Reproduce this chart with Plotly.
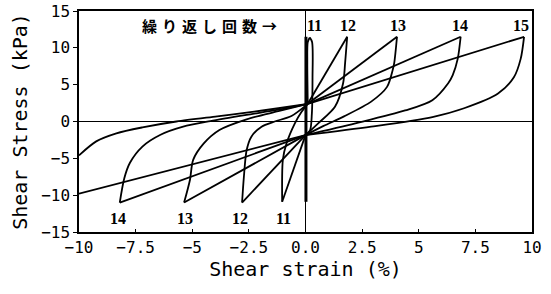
import plotly.graph_objects as go

# ---- data (strain %, stress kPa) ----
U_X, U_Y = 0.1, 2.4      # upper convergence point
L_X, L_Y = 0.0, -1.85    # lower convergence point

peak_labels = ["11", "12", "13", "14", "15"]
peak_strain = [0.19, 1.84, 4.04, 6.85, 9.65]
peak_stress = [11.4, 11.5, 11.5, 11.5, 11.5]
peak_label_x = [0.4, 1.86, 4.07, 6.8, 9.5]

trough_labels = ["11", "12", "13", "14"]
trough_strain = [-1.03, -2.8, -5.36, -8.2]
trough_stress = [-10.9, -11.0, -11.0, -11.0]
trough_label_x = [-0.99, -2.87, -5.33, -8.3]

# cycles 1-10 (almost no strain)
early_x = [0.02, 0.02]
early_y = [-10.9, 11.5]

# loading branches (trough -> upper convergence)
load11_x = [-1.03, -1.0, -0.84, -0.47, -0.18, 0.1]
load11_y = [-10.9, -5.2, -3.0, -0.25, 1.3, 2.4]
load12_x = [-2.8, -2.72, -2.6, -2.39, -1.94, -1.36, -0.62, 0.1]
load12_y = [-11.0, -7.5, -3.9, -2.06, -0.7, 0.0, 0.75, 2.4]
load13_x = [-5.36, -5.1, -4.96, -4.5, -3.8, -2.6, -1.2, 0.1]
load13_y = [-11.0, -7.9, -5.2, -3.0, -1.15, 0.3, 1.4, 2.4]
load14_x = [-8.2, -8.0, -7.75, -7.2, -6.4, -5.4, -4.2, -2.6, -1.2, 0.1]
load14_y = [-11.0, -7.7, -5.6, -3.4, -1.8, -0.7, 0.05, 0.9, 1.6, 2.4]
load15_x = [-10.0, -9.24, -8.35, -7.2, -5.7, -3.9, -2.6, -1.2, 0.1]
load15_y = [-4.6, -2.7, -1.6, -0.8, 0.0, 0.7, 1.2, 1.8, 2.4]

# cycle 11 rise to its peak
rise11_x = [0.1, 0.08, 0.1, 0.19]
rise11_y = [2.4, 8.0, 10.8, 11.4]

# unloading branches (peak -> lower convergence)
unload11_x = [0.19, 0.29, 0.31, 0.28, 0.2, 0.0]
unload11_y = [11.4, 10.8, 6.0, 1.0, -1.2, -1.85]
unload12_x = [1.84, 1.75, 1.66, 1.3, 0.56, 0.0]
unload12_y = [11.5, 8.0, 5.2, 2.0, -0.25, -1.85]
unload13_x = [4.04, 3.92, 3.85, 3.6, 2.9, 1.7, 0.8, 0.0]
unload13_y = [11.5, 8.0, 7.0, 4.7, 2.7, 0.7, -0.6, -1.85]
unload14_x = [6.85, 6.72, 6.5, 6.3, 5.6, 4.4, 2.2, 0.0]
unload14_y = [11.5, 8.5, 6.3, 5.2, 2.9, 1.5, -0.25, -1.85]
unload15_x = [9.65, 9.5, 9.2, 8.5, 7.0, 5.6, 2.9, 0.0]
unload15_y = [11.5, 8.5, 6.0, 3.8, 1.8, 0.6, -0.7, -1.85]

# cycle 15 trough lies beyond the plot: line leaves at left edge
edge15_x = -10.0
edge15_y = -9.8

LW = 1.8
fig = go.Figure()

def seg(x, y, smooth):
    fig.add_trace(go.Scatter(
        x=x, y=y, mode="lines",
        line=dict(color="black", width=LW,
                  shape="spline" if smooth else "linear",
                  smoothing=0.8 if smooth else None),
        showlegend=False, hoverinfo="skip"))

loads = [(load11_x, load11_y), (load12_x, load12_y), (load13_x, load13_y),
         (load14_x, load14_y), (load15_x, load15_y)]
unloads = [(unload11_x, unload11_y), (unload12_x, unload12_y), (unload13_x, unload13_y),
           (unload14_x, unload14_y), (unload15_x, unload15_y)]

for lx, ly in loads:
    seg(lx, ly, True)
for ux, uy in unloads:
    seg(ux, uy, True)

# straight reloading lines upper convergence -> peaks
seg(rise11_x, rise11_y, True)
for px, py in zip(peak_strain[1:], peak_stress[1:]):
    seg([U_X, px], [U_Y, py], False)

# straight lines lower convergence -> troughs
for tx, ty in zip(trough_strain, trough_stress):
    seg([L_X, tx], [L_Y, ty], False)
seg([L_X, edge15_x], [L_Y, edge15_y], False)

# early cycles
fig.add_trace(go.Scatter(x=early_x, y=early_y, mode="lines",
                         line=dict(color="black", width=3),
                         showlegend=False, hoverinfo="skip"))

label_font = dict(family="Liberation Serif", size=16, color="black", weight="bold")
for lab, lx in zip(peak_labels, peak_label_x):
    fig.add_annotation(x=lx, y=13.1, text=lab, showarrow=False, font=label_font)
for lab, lx in zip(trough_labels, trough_label_x):
    fig.add_annotation(x=lx, y=-13.1, text=lab, showarrow=False, font=label_font)

fig.add_annotation(x=-1.15, y=13.1, xanchor="right",
                   text="繰\u2004り\u2004返\u2004し\u2004回\u2004数\u2004→",
                   showarrow=False,
                   font=dict(family="Noto Sans CJK JP", size=15, color="black", weight="bold"))

x_tickvals = [-10, -7.5, -5, -2.5, 0, 2.5, 5, 7.5, 10]
x_ticktext = ["−10", "−7.5", "−5", "−2.5", "0.0", "2.5", "5", "7.5", "10"]
y_tickvals = [15, 10, 5, 0, -5, -10, -15]
y_ticktext = ["15", "10", "5", "0", "−5", "−10", "−15"]

tick_font = dict(family="DejaVu Sans Mono", size=16, color="black")
title_font = dict(family="DejaVu Sans Mono", size=20, color="black")

fig.update_xaxes(range=[-10, 10], tickvals=x_tickvals, ticktext=x_ticktext,
                 ticks="inside", ticklen=3, tickcolor="black", automargin=False,
                 showline=True, linecolor="black", linewidth=1.5, mirror=True,
                 showgrid=False, zeroline=True, zerolinecolor="black", zerolinewidth=1,
                 tickfont=tick_font,
                 title=dict(text="Shear strain (%)", font=title_font, standoff=6))
fig.update_yaxes(range=[-15, 15], tickvals=y_tickvals, ticktext=y_ticktext,
                 ticks="outside", ticklen=4, tickcolor="black", automargin=False,
                 showline=True, linecolor="black", linewidth=1.5, mirror=True,
                 showgrid=False, zeroline=True, zerolinecolor="black", zerolinewidth=1,
                 tickfont=tick_font,
                 title=dict(text="Shear Stress (kPa)", font=title_font, standoff=8))

fig.update_layout(width=551, height=294,
                  margin=dict(l=79, r=19, t=11, b=62),
                  plot_bgcolor="white", paper_bgcolor="white")

# remove the default page margin so the figure sits at the window's corner
fig.write_html("out.html",
               config={"displayModeBar": False},
               post_script="document.body.style.margin='0';document.body.style.overflow='hidden';")
